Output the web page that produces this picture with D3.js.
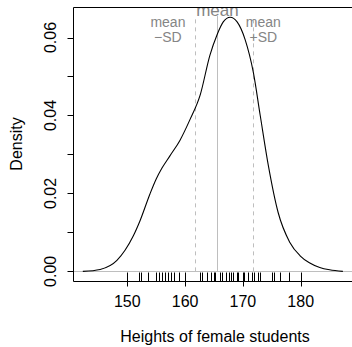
<!DOCTYPE html>
<html>
<head>
<meta charset="utf-8">
<script src="https://cdn.jsdelivr.net/npm/d3@7"></script>
<style>
  html, body { margin: 0; padding: 0; background: #fff; }
  svg { display: block; font-family: "Liberation Sans", Arial, Helvetica, sans-serif; }
</style>
</head>
<body>
<svg id="chart" width="352" height="347"></svg>
<script>
// density curve (height in cm, density)
const curveX = [142.3, 145.3, 148.2, 149.6, 151.0, 152.2, 153.9, 155.0, 156.0, 157.4, 159.1, 160.8, 162.6, 164.3, 165.5, 166.6, 167.8, 169.0, 170.4, 171.8, 173.0, 174.4, 176.1, 178.1, 179.9, 181.5, 183.3, 185.0, 187.3];
const curveY = [0.0000, 0.0005, 0.0028, 0.0054, 0.0090, 0.0130, 0.0198, 0.0237, 0.0265, 0.0297, 0.0336, 0.0388, 0.0452, 0.0555, 0.0606, 0.0640, 0.0652, 0.0640, 0.0594, 0.0511, 0.0400, 0.0272, 0.0151, 0.0075, 0.0040, 0.0022, 0.0010, 0.0004, 0.0000];

// rug: individual heights
const heights = [150, 152, 152.4, 153.5, 154.9, 155.5, 156, 156.5, 157, 157.5, 158, 159, 160, 162.6, 163, 163.8, 164.4, 165, 165.1, 166, 166.4, 167, 167.6, 168, 168.3, 168.9, 169.2, 170, 170.2, 170.8, 171.5, 172, 172.7, 173, 175, 175.3, 176.5, 178, 180];

// reference lines
const refLines = [
  { name: 'lower', value: 161.7, dashed: true },
  { name: 'mean', value: 165.6, dashed: false },
  { name: 'upper', value: 171.8, dashed: true }
];

const xTicks = [150, 160, 170, 180];
const yTicks = [0, 0.01, 0.02, 0.03, 0.04, 0.05, 0.06];
const yTickLabels = ['0.00', '', '0.02', '', '0.04', '', '0.06'];

const svg = d3.select('#chart');
const pLeft = 73.5, pTop = 7.5, pBottom = 281.5, pRight = 356;

const x = d3.scaleLinear().domain([140.6, 189.4]).range([73, 355]);
const y = d3.scaleLinear().domain([-0.0026, 0.0677]).range([pBottom, pTop]);

svg.append('defs').append('clipPath').attr('id', 'plotclip')
  .append('rect')
  .attr('x', pLeft).attr('y', pTop)
  .attr('width', pRight - pLeft).attr('height', pBottom - pTop);

const plot = svg.append('g').attr('clip-path', 'url(#plotclip)');

// zero line
plot.append('line')
  .attr('x1', pLeft).attr('x2', pRight)
  .attr('y1', Math.round(y(0)) + 0.5).attr('y2', Math.round(y(0)) + 0.5)
  .attr('stroke', '#bebebe').attr('stroke-width', 1);

// reference lines
plot.selectAll('.ref')
  .data(refLines)
  .enter()
  .append('line')
  .attr('x1', d => Math.round(x(d.value)) + 0.5)
  .attr('x2', d => Math.round(x(d.value)) + 0.5)
  .attr('y1', y(0))
  .attr('y2', y(0.0655))
  .attr('stroke', '#bebebe')
  .attr('stroke-width', 1)
  .attr('stroke-dasharray', d => d.dashed ? '4,4' : null);

// density curve
const line = d3.line()
  .x(d => x(d[0]))
  .y(d => y(d[1]))
  .curve(d3.curveMonotoneX);

plot.append('path')
  .datum(d3.zip(curveX, curveY))
  .attr('d', line)
  .attr('fill', 'none')
  .attr('stroke', '#000')
  .attr('stroke-width', 1.1);

// rug
plot.selectAll('.rug')
  .data(heights)
  .enter()
  .append('line')
  .attr('x1', d => Math.round(x(d)) + 0.5)
  .attr('x2', d => Math.round(x(d)) + 0.5)
  .attr('y1', pBottom)
  .attr('y2', pBottom - 9)
  .attr('stroke', '#000')
  .attr('stroke-width', 1);

// labels for reference lines
const labelColor = '#858585';
plot.append('text')
  .attr('x', x(165.6))
  .attr('y', 16)
  .attr('text-anchor', 'middle')
  .style('font-size', '17px')
  .style('fill', labelColor)
  .text('mean');

const sideLabels = [
  { cx: x(161.7) - 27, lines: ['mean', '\u2212SD'] },
  { cx: x(171.8) + 10, lines: ['mean', '+SD'] }
];
sideLabels.forEach(lb => {
  lb.lines.forEach((t, i) => {
    svg.append('text')
      .attr('x', lb.cx)
      .attr('y', 27 + i * 15)
      .attr('text-anchor', 'middle')
      .style('font-size', '14px')
      .style('fill', labelColor)
      .text(t);
  });
});

// box (top, left, bottom)
svg.append('path')
  .attr('d', `M${pRight},${pTop}H${pLeft}V${pBottom}H${pRight}`)
  .attr('fill', 'none')
  .attr('stroke', '#000')
  .attr('stroke-width', 1);

// y axis
const yAxis = svg.append('g');
yAxis.selectAll('line')
  .data(yTicks)
  .enter()
  .append('line')
  .attr('x1', pLeft - 6).attr('x2', pLeft)
  .attr('y1', d => Math.round(y(d)) + 0.5).attr('y2', d => Math.round(y(d)) + 0.5)
  .attr('stroke', '#000');
yAxis.selectAll('text')
  .data(yTicks)
  .enter()
  .append('text')
  .attr('transform', d => `translate(56,${y(d)}) rotate(-90)`)
  .attr('text-anchor', 'middle')
  .style('font-size', '16px')
  .text((d, i) => yTickLabels[i]);

// x axis
const xAxis = svg.append('g');
xAxis.append('line')
  .attr('x1', Math.round(x(xTicks[0])) + 0.5)
  .attr('x2', Math.round(x(xTicks[xTicks.length - 1])) + 0.5)
  .attr('y1', pBottom).attr('y2', pBottom)
  .attr('stroke', '#000');
xAxis.selectAll('line.tick')
  .data(xTicks)
  .enter()
  .append('line')
  .attr('class', 'tick')
  .attr('x1', d => Math.round(x(d)) + 0.5).attr('x2', d => Math.round(x(d)) + 0.5)
  .attr('y1', pBottom).attr('y2', pBottom + 5)
  .attr('stroke', '#000');
xAxis.selectAll('text')
  .data(xTicks)
  .enter()
  .append('text')
  .attr('x', d => x(d))
  .attr('y', 307)
  .attr('text-anchor', 'middle')
  .style('font-size', '16px')
  .text(d => d);

// axis titles
svg.append('text')
  .attr('x', 215)
  .attr('y', 341.5)
  .attr('text-anchor', 'middle')
  .style('font-size', '16px')
  .text('Heights of female students');

svg.append('text')
  .attr('transform', 'translate(21.5,144) rotate(-90)')
  .attr('text-anchor', 'middle')
  .style('font-size', '16px')
  .text('Density');
</script>
</body>
</html>
